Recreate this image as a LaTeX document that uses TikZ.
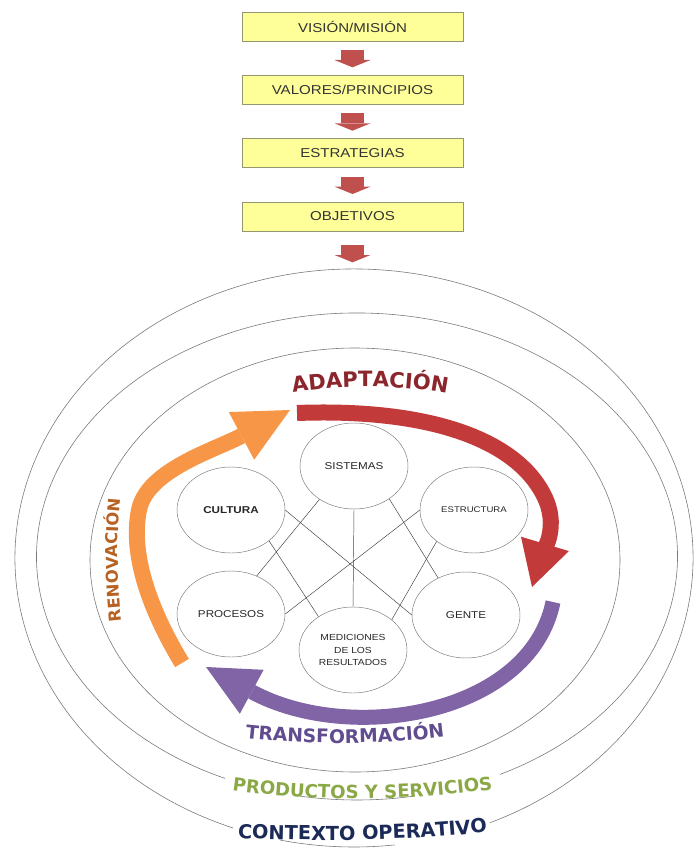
\documentclass[tikz,border=0pt]{standalone}
\usepackage{fontspec}
\setmainfont{Liberation Sans}
\newfontfamily\boxfont[FakeStretch=1.17]{Liberation Sans}
\newfontfamily\artfont{DejaVu Sans}
\usetikzlibrary{positioning}
\usetikzlibrary{shapes.geometric}
\usetikzlibrary{arrows.meta}
\usetikzlibrary{decorations.text}

\definecolor{boxyellow}{RGB}{255,255,153}
\definecolor{boxline}{RGB}{150,150,110}
\definecolor{stepred}{RGB}{192,80,77}
\definecolor{ringgray}{RGB}{120,120,120}
\definecolor{adaptred}{RGB}{194,58,58}
\definecolor{renovorange}{RGB}{247,150,70}
\definecolor{transpurple}{RGB}{128,100,166}
\definecolor{adapttext}{RGB}{140,38,45}
\definecolor{renovtext}{RGB}{183,98,35}
\definecolor{transtext}{RGB}{96,76,142}
\definecolor{prodgreen}{RGB}{139,168,70}
\definecolor{ctxnavy}{RGB}{28,42,88}

\newcommand\adaptfmt{\artfont\bfseries\fontsize{18}{18}\selectfont}
\newcommand\renovfmt{\artfont\bfseries\fontsize{14}{14}\selectfont}
\newcommand\transfmt{\artfont\bfseries\fontsize{16}{16}\selectfont}
\newcommand\prodfmt{\artfont\bfseries\fontsize{15.5}{15.5}\selectfont}
\newcommand\ctxfmt{\artfont\bfseries\fontsize{16.5}{16.5}\selectfont}

\tikzset{
  stepbox/.style={draw=boxline, fill=boxyellow, minimum width=6.63cm, minimum height=0.87cm,
    inner sep=0pt, outer sep=0pt, text=black!80, font=\boxfont\fontsize{11}{11}\selectfont},
  steparrow/.style={draw=stepred, line width=0.68cm,
    -{Triangle[width=1.08cm, length=0.22cm, line width=0pt]}, shorten <=0.27cm, shorten >=0.24cm},
  factor/.style={ellipse, draw=ringgray, minimum width=3.24cm, minimum height=2.58cm, inner sep=0pt,
    align=center, text=black!85, font=\boxfont\fontsize{8.5}{11}\selectfont},
  link/.style={draw=black!75, line width=0.4pt},
  ring/.style={draw=ringgray, line width=0.5pt},
  flow/.style={line width=0.48cm}
}

\begin{document}
\begin{tikzpicture}[x=0.03cm, y=0.03cm]

  \useasboundingbox (0,0) rectangle (694,-848);

  % Steps on top
  \node[stepbox] (vis) at (352.5,-26.5) {VISIÓN/MISIÓN};
  \node[stepbox, below=1.03cm of vis] (val) {VALORES/PRINCIPIOS};
  \node[stepbox, below=1.03cm of val] (strat) {ESTRATEGIAS};
  \node[stepbox, below=1.03cm of strat] (obj) {OBJETIVOS};

  \foreach \a/\b in {vis/val, val/strat, strat/obj} {
    \draw[steparrow] (\a.south) -- (\b.north);
  }

  % Rings
  \coordinate (c1) at (354,-558);
  \coordinate (c2) at (357,-556.5);
  \coordinate (c3) at (355,-560);
  \coordinate (ringtop) at (352.5,-269);

  \draw[ring] ([shift={(293.6:339 and 289)}] c1) arc[start angle=293.6, end angle=609.1, x radius=339, y radius=289];
  \draw[ring] ([shift={(257.4:339 and 289)}] c1) arc[start angle=257.4, end angle=276.9, x radius=339, y radius=289];
  \draw[ring] ([shift={(296.5:320.5 and 243.5)}] c2) arc[start angle=296.5, end angle=605.7, x radius=320.5, y radius=243.5];
  \draw[ring] ([shift={(259.75:320.5 and 243.5)}] c2) arc[start angle=259.75, end angle=280.4, x radius=320.5, y radius=243.5];
  \draw[ring] (c3) ellipse[x radius=265, y radius=212];

  \draw[steparrow, shorten <=0.42cm, shorten >=0.2cm] (obj.south) -- (ringtop);

  % Cycle arrows
  \draw[flow, draw=adaptred, -{Triangle[width=1.5cm, length=1.35cm, line width=0pt]}]
    (297,-413) .. controls (430,-408) and (520,-440) .. (546,-500)
    .. controls (559,-530) and (541,-557) .. (532,-587);
  \draw[flow, draw=renovorange, -{Triangle[width=1.62cm, length=1.65cm, line width=0pt]}]
    (182,-663) .. controls (150,-610) and (130,-555) .. (139,-510)
    .. controls (147,-470) and (215,-450) .. (290,-410);
  \draw[flow, draw=transpurple, line width=0.45cm, -{Triangle[width=1.5cm, length=1.56cm, line width=0pt]}]
    (553,-602) .. controls (530,-715) and (350,-745) .. (206,-667);

  % Factors
  \node[factor] (sis) at (354,-466) {SISTEMAS};
  \node[factor] (cul) at (231,-510) {\bfseries CULTURA};
  \node[factor, font=\boxfont\fontsize{7}{9}\selectfont] (est) at (474,-510) {ESTRUCTURA};
  \node[factor] (pro) at (231,-614) {PROCESOS};
  \node[factor] (gen) at (466,-615) {GENTE};
  \node[factor, font=\boxfont\fontsize{7.5}{11}\selectfont] (med) at (353,-650) {MEDICIONES\\DE LOS\\RESULTADOS};

  \foreach \a/\b in {sis.south/med.north, sis.224/pro.56, sis.-43/gen.127, cul.east/gen.west,
                     cul.-39/med.136, est.west/pro.east, est.220/med.38} {
    \draw[link] (\a) -- (\b);
  }

  % Labels
  \path[decorate, decoration={text along path, text align=center, text color=adapttext,
      text={|\adaptfmt|ADAPTACIÓN}}]
    (260,-400) .. controls (320,-382) and (420,-382) .. (480,-402);
  \path[decorate, decoration={text along path, text align=center, text color=renovtext,
      text={|\renovfmt|RENOVACIÓN}}]
    (126,-650) .. controls (116,-600) and (115,-520) .. (124,-470);
  \path[decorate, decoration={text along path, text align=center, text color=transtext,
      text={|\transfmt|TRANSFORMACIÓN}}]
    (220,-735) .. controls (290,-746) and (400,-746) .. (470,-733);
  \path[decorate, decoration={text along path, text align=center, text color=prodgreen,
      text={|\prodfmt|PRODUCTOS Y SERVICIOS}}]
    (205,-786) .. controls (300,-803) and (420,-803) .. (520,-785);
  \path[decorate, decoration={text along path, text align=center, text color=ctxnavy,
      text={|\ctxfmt|CONTEXTO OPERATIVO}}]
    (215,-837) .. controls (310,-842) and (420,-842) .. (510,-829);

\end{tikzpicture}
\end{document}
